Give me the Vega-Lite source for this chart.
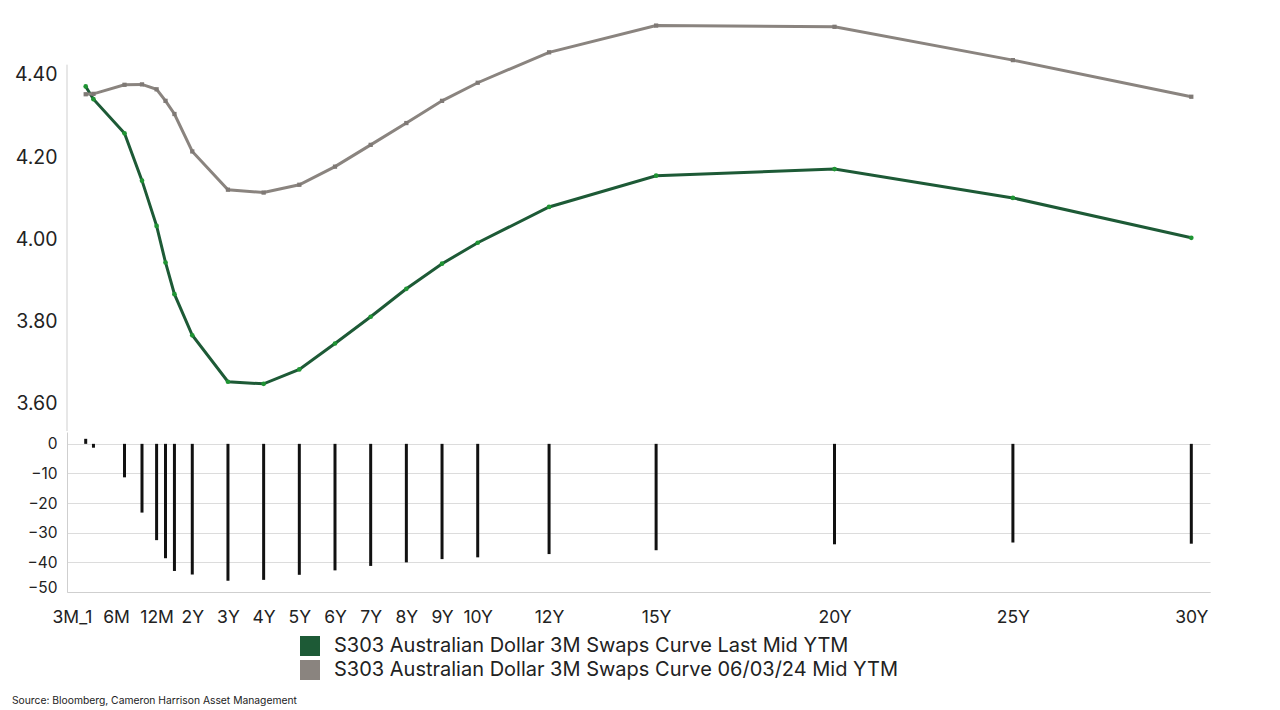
{
  "$schema": "https://vega.github.io/schema/vega-lite/v6.json",
  "background": "white",
  "padding": {"left": 5, "top": 18, "right": 10, "bottom": 5},
  "spacing": 0,
  "config": {
    "view": {"stroke": null},
    "font": "Inter",
    "axis": {"labelColor": "#222222", "domainColor": "#cfcfcf", "ticks": false, "title": null, "labelFont": "Inter"},
    "legend": {"labelFont": "Inter"}
  },
  "datasets": {
    "curve": [
      {"tenor": "3M_1", "t": 0.25, "Last": 4.372, "Prior": 4.353, "diff": 1.7},
      {"tenor": "3M_2", "t": 0.3, "Last": 4.341, "Prior": 4.354, "diff": -1.3},
      {"tenor": "6M", "t": 0.5, "Last": 4.258, "Prior": 4.376, "diff": -11.3},
      {"tenor": "9M", "t": 0.75, "Last": 4.143, "Prior": 4.377, "diff": -23.2},
      {"tenor": "12M", "t": 1, "Last": 4.033, "Prior": 4.365, "diff": -32.5},
      {"tenor": "15M", "t": 1.25, "Last": 3.944, "Prior": 4.337, "diff": -38.6},
      {"tenor": "18M", "t": 1.5, "Last": 3.867, "Prior": 4.305, "diff": -42.9},
      {"tenor": "2Y", "t": 2, "Last": 3.767, "Prior": 4.214, "diff": -44.1},
      {"tenor": "3Y", "t": 3, "Last": 3.654, "Prior": 4.121, "diff": -46.2},
      {"tenor": "4Y", "t": 4, "Last": 3.649, "Prior": 4.114, "diff": -45.9},
      {"tenor": "5Y", "t": 5, "Last": 3.684, "Prior": 4.133, "diff": -44.2},
      {"tenor": "6Y", "t": 6, "Last": 3.747, "Prior": 4.177, "diff": -42.7},
      {"tenor": "7Y", "t": 7, "Last": 3.812, "Prior": 4.23, "diff": -41.2},
      {"tenor": "8Y", "t": 8, "Last": 3.88, "Prior": 4.283, "diff": -40.0},
      {"tenor": "9Y", "t": 9, "Last": 3.941, "Prior": 4.337, "diff": -38.9},
      {"tenor": "10Y", "t": 10, "Last": 3.992, "Prior": 4.381, "diff": -38.3},
      {"tenor": "12Y", "t": 12, "Last": 4.079, "Prior": 4.455, "diff": -37.2},
      {"tenor": "15Y", "t": 15, "Last": 4.155, "Prior": 4.52, "diff": -35.9},
      {"tenor": "20Y", "t": 20, "Last": 4.171, "Prior": 4.517, "diff": -33.9},
      {"tenor": "25Y", "t": 25, "Last": 4.101, "Prior": 4.436, "diff": -33.3},
      {"tenor": "30Y", "t": 30, "Last": 4.004, "Prior": 4.347, "diff": -33.7}
    ]
  },
  "vconcat": [
    {
      "width": 1143,
      "height": 413,
      "layer": [
        {
          "data": {"values": [{}]},
          "mark": {"type": "rule", "color": "#cfcfcf", "strokeWidth": 1},
          "encoding": {
            "x": {"datum": 0.1295, "type": "quantitative", "scale": {"type": "linear", "domain": [0.1295, 0.25, 0.5, 0.75, 1, 30, 30.524], "range": [0, 18.7, 57.5, 75, 89.6, 1124.3, 1143], "zero": false, "nice": false}, "axis": null},
            "y": {"datum": 3.5343, "type": "quantitative", "scale": {"domain": [3.5343, 4.5384], "zero": false, "nice": false}},
            "y2": {"datum": 4.425}
          }
        },
        {
          "data": {"name": "curve"},
          "transform": [{"fold": ["Last", "Prior"], "as": ["series", "value"]}],
          "layer": [
            {
              "mark": {"type": "line", "strokeWidth": 3},
              "encoding": {
                "x": {"field": "t", "type": "quantitative", "scale": {"type": "linear", "domain": [0.1295, 0.25, 0.5, 0.75, 1, 30, 30.524], "range": [0, 18.7, 57.5, 75, 89.6, 1124.3, 1143], "zero": false, "nice": false}, "axis": null},
                "y": {"field": "value", "type": "quantitative", "scale": {"domain": [3.5343, 4.5384], "zero": false, "nice": false}, "axis": {"values": [3.6, 3.8, 4.0, 4.2, 4.4], "format": ".2f", "grid": false, "domain": false, "labelFontSize": 19.5, "labelPadding": 10, "minExtent": 62, "maxExtent": 62}},
                "color": {
                  "field": "series", "type": "nominal",
                  "scale": {"domain": ["Last", "Prior"], "range": ["#1d5a36", "#8a847f"]},
                  "legend": {
                    "orient": "none", "legendX": 233, "legendY": 618, "direction": "vertical", "title": null,
                    "symbolType": "square", "symbolSize": 400, "symbolStrokeWidth": 0, "labelFontSize": 20, "labelColor": "#222222", "labelOffset": 14, "rowPadding": 4,
                    "labelLimit": 900,
                    "labelExpr": "datum.value == 'Last' ? 'S303 Australian Dollar 3M Swaps Curve Last Mid YTM' : 'S303 Australian Dollar 3M Swaps Curve 06/03/24 Mid YTM'",
                    "encode": {"symbols": {"update": {"fill": {"scale": "color", "field": "value"}, "stroke": {"value": "transparent"}, "opacity": {"value": 1}}}}
                  }
                }
              }
            },
            {
              "transform": [{"filter": "datum.series == 'Last'"}],
              "mark": {"type": "point", "filled": true, "size": 22, "opacity": 1, "color": "#1f9433", "shape": "circle"},
              "encoding": {
                "x": {"field": "t", "type": "quantitative"},
                "y": {"field": "value", "type": "quantitative"}
              }
            },
            {
              "transform": [{"filter": "datum.series == 'Prior'"}],
              "mark": {"type": "point", "filled": true, "size": 18, "opacity": 1, "color": "#7f7975", "shape": "square"},
              "encoding": {
                "x": {"field": "t", "type": "quantitative"},
                "y": {"field": "value", "type": "quantitative"}
              }
            }
          ]
        }
      ]
    },
    {
      "width": 1143,
      "height": 160,
      "data": {"name": "curve"},
      "mark": {"type": "bar", "size": 3, "color": "#111111"},
      "encoding": {
        "x": {
          "field": "t", "type": "quantitative",
          "scale": {"type": "linear", "domain": [0.1295, 0.25, 0.5, 0.75, 1, 30, 30.524], "range": [0, 18.7, 57.5, 75, 89.6, 1124.3, 1143], "zero": false, "nice": false},
          "axis": {
            "values": [0.1295, 0.445, 1, 2, 3, 4, 5, 6, 7, 8, 9, 10, 12, 15, 20, 25, 30],
            "labelExpr": "datum.value < 0.2 ? '3M_1' : datum.value < 0.6 ? '6M' : datum.value < 1.5 ? '12M' : datum.value + 'Y'",
            "labelFlush": false, "labelOverlap": false, "labelBound": false,
            "labelFontSize": 17.5, "labelPadding": 16, "grid": false,
            "labelAlign": {"condition": {"test": "datum.value < 0.2", "value": "right"}, "value": "center"},
            "labelOffset": {"condition": {"test": "datum.value < 0.2", "value": 15}, "value": 0}
          }
        },
        "y": {
          "field": "diff", "type": "quantitative",
          "scale": {"domain": [-50, 4], "zero": false, "nice": false},
          "axis": {
            "values": [0, -10, -20, -30, -40, -50], "grid": true, "gridColor": "#dcdcdc", "labelFontSize": 15.5, "labelPadding": 10, "minExtent": 62, "maxExtent": 62,
            "labelBaseline": {"condition": {"test": "datum.value == -50", "value": "alphabetic"}, "value": "middle"}
          }
        }
      }
    }
  ],
  "title": {
    "text": "Source: Bloomberg, Cameron Harrison Asset Management",
    "orient": "bottom", "anchor": "start", "frame": "bounds",
    "fontSize": 10.3, "fontWeight": "normal", "color": "#222222", "font": "Inter", "offset": 16, "dx": 7
  }
}
